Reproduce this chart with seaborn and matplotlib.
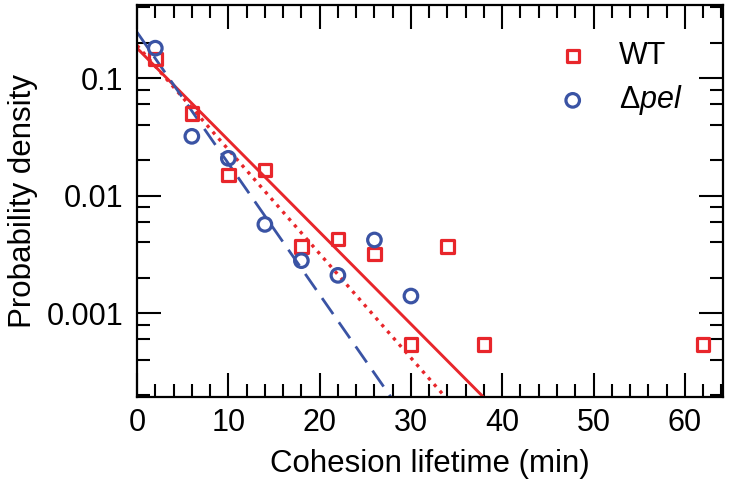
import numpy as np
import pandas as pd
import seaborn as sns
import matplotlib.pyplot as plt
from matplotlib.ticker import MultipleLocator, LogLocator, NullFormatter, FixedLocator, FixedFormatter

# measured points
wt_time = [2, 6, 10, 14, 18, 22, 26, 30, 34, 38, 62]
wt_density = [0.145, 0.050, 0.0150, 0.0166, 0.0037, 0.0043, 0.0032, 0.00054, 0.0037, 0.00054, 0.00054]
pel_time = [2, 6, 10, 14, 18, 22, 26, 30]
pel_density = [0.180, 0.032, 0.0208, 0.0057, 0.0028, 0.0021, 0.0042, 0.0014]

# exponential fits: amplitude, decay time (min), x end
fit_names = ["WT fit", "WT fit 2", "pel fit"]
fit_amp = [0.18, 0.19, 0.246]
fit_tau = [5.55, 4.90, 3.89]
fit_end = [38.5, 34.5, 28.5]

red = "#E8262B"
blue = "#3A53A4"

sns.set_theme(style="ticks")
plt.rcParams['font.family'] = ['Liberation Sans', 'DejaVu Sans']
plt.rcParams['mathtext.fontset'] = 'custom'
plt.rcParams['mathtext.rm'] = 'Liberation Sans'
plt.rcParams['mathtext.it'] = 'Liberation Sans:italic'
plt.rcParams['text.color'] = 'black'
plt.rcParams['axes.labelcolor'] = 'black'
plt.rcParams['xtick.color'] = 'black'
plt.rcParams['ytick.color'] = 'black'

fig = plt.figure(figsize=(7.29, 4.94), dpi=100)
ax = fig.add_axes([0.188, 0.196, 0.804, 0.794])

styles = [("-", red, 2.1), (":", red, 2.4), ((0, (7, 3.6)), blue, 2.0)]
for name, a, tau, xe, (ls, c, w) in zip(fit_names, fit_amp, fit_tau, fit_end, styles):
    t = np.linspace(0, xe, 100)
    fit_df = pd.DataFrame({"t": t, "p": a * np.exp(-t / tau)})
    sns.lineplot(data=fit_df, x="t", y="p", ax=ax, color=c, lw=w,
                 linestyle=ls, legend=False)

wt_df = pd.DataFrame({"t": wt_time, "p": wt_density})
pel_df = pd.DataFrame({"t": pel_time, "p": pel_density})
sns.scatterplot(data=wt_df, x="t", y="p", ax=ax, marker="s", s=80,
                fc="none", ec=red, linewidth=2.3, label="WT", zorder=5)
sns.scatterplot(data=pel_df, x="t", y="p", ax=ax, marker="o", s=95,
                fc="none", ec=blue, linewidth=2.3, label=r"$\Delta\mathit{pel}$", zorder=5)

ax.set_yscale("log")
ax.set_xlim(0, 64.2)
ax.set_ylim(0.000193, 0.42)

ax.xaxis.set_major_locator(MultipleLocator(10))
ax.xaxis.set_minor_locator(MultipleLocator(2))
ax.yaxis.set_major_locator(FixedLocator([0.001, 0.01, 0.1]))
ax.yaxis.set_major_formatter(FixedFormatter(["0.001", "0.01", "0.1"]))
ax.yaxis.set_minor_locator(LogLocator(base=10, subs=[2, 4, 6, 8]))
ax.yaxis.set_minor_formatter(NullFormatter())

ax.tick_params(which="both", direction="in", top=True, right=True, width=1.5,
               color="black", labelsize=22)
ax.tick_params(axis="y", pad=10)
ax.tick_params(axis="x", pad=8)
ax.tick_params(which="major", length=17.5)
ax.tick_params(which="minor", length=9.5)
for sp in ax.spines.values():
    sp.set_linewidth(1.6)
    sp.set_color("black")

ax.set_xlabel("Cohesion lifetime (min)", fontsize=22.5, labelpad=8)
ax.set_ylabel("Probability density", fontsize=22.5, labelpad=6)

leg = ax.legend(loc="upper right", frameon=False, fontsize=22, handletextpad=0.5,
                borderaxespad=0.4, labelspacing=0.4, bbox_to_anchor=(0.972, 0.97))

fig.savefig("out.png", dpi=100)
